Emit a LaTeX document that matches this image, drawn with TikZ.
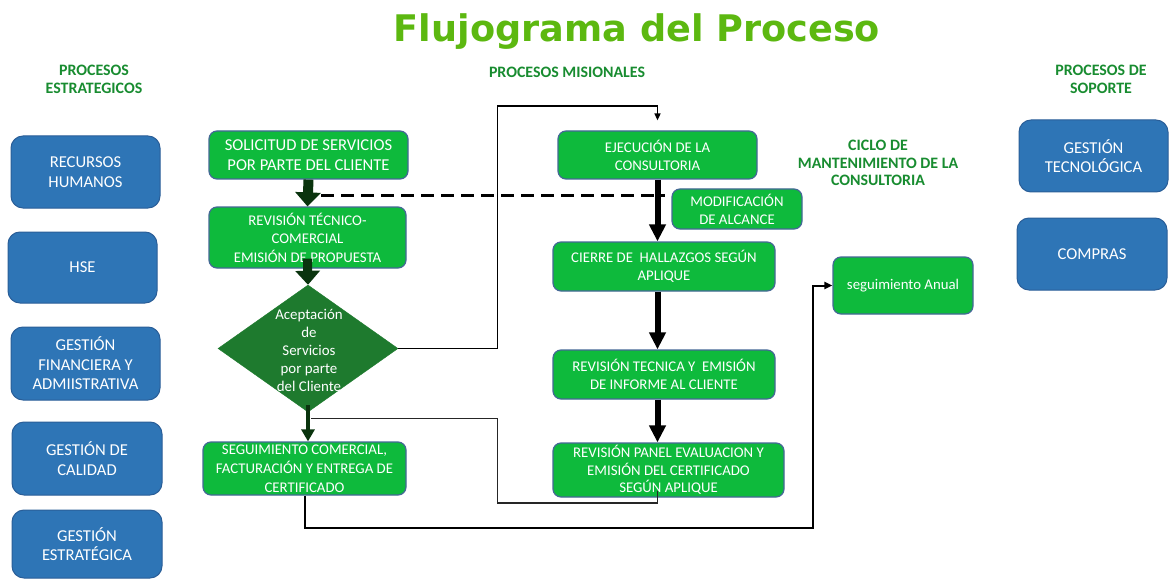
\documentclass[tikz,border=0pt]{standalone}
\usepackage{fontspec}
\usepackage{graphicx}
\setmainfont{Carlito}
\newfontfamily\titlefont{DejaVu Sans}
\usetikzlibrary{shapes.geometric,arrows.meta,calc}
\definecolor{gbox}{RGB}{14,186,60}
\definecolor{gborder}{RGB}{68,104,150}
\definecolor{bbox}{RGB}{46,117,182}
\definecolor{bborder}{RGB}{42,94,152}
\definecolor{dgreen}{RGB}{30,122,46}
\definecolor{hdr}{RGB}{24,140,48}
\definecolor{ttl}{RGB}{92,184,16}
\definecolor{darrow}{RGB}{10,52,14}
\begin{document}
\begin{tikzpicture}[x=1pt,y=-1pt,
  sz/.style 2 args={minimum width=#1pt, minimum height=#2pt},
  gnode/.style={draw=gborder, line width=1.2pt, fill=gbox, rounded corners=8pt, text=white, align=center, inner sep=0pt},
  bnode/.style={draw=bborder, line width=1pt, fill=bbox, rounded corners=12pt, text=white, align=center, inner sep=0pt, font=\fontsize{16.6}{19.5}\selectfont},
  hdrtext/.style={text=hdr, align=center, font=\bfseries\fontsize{15.9}{17.8}\selectfont, inner sep=0pt},
  fA/.style={font=\fontsize{16.6}{19.5}\selectfont},
  fB/.style={font=\fontsize{14.8}{18.5}\selectfont},
  fC/.style={font=\fontsize{14.8}{18}\selectfont},
  conn/.style={draw=black, line width=1.5pt},
  thickblack/.style={draw=black, line width=6pt, -{Triangle[width=16pt,length=17pt]}}
]
\fill[white] (0,0) rectangle (1169,580);
\useasboundingbox (0,0) rectangle (1169,580);

% title and headers
\node[text=ttl, font=\titlefont\bfseries, inner sep=0pt, anchor=base] (title) at (637,42) {\resizebox{486pt}{!}{Flujograma del Proceso}};
\node[hdrtext] (hS) at (94,79.5) {PROCESOS\\ESTRATEGICOS};
\node[hdrtext] (hM) at (567,72) {PROCESOS MISIONALES};
\node[hdrtext] (hP) at (1101,79.5) {PROCESOS DE\\SOPORTE};
\node[hdrtext] (hC) at (878,163) {CICLO DE\\MANTENIMIENTO DE LA\\CONSULTORIA};

% strategic processes
\node[bnode, sz={149}{72}] (rh) at (85.5,172) {RECURSOS\\HUMANOS};
\node[bnode, sz={149}{71}] (hse) at (82.5,267.5) {HSE};
\node[bnode, sz={149}{73}] (fin) at (85.5,363.5) {GESTIÓN\\FINANCIERA Y\\ADMIISTRATIVA};
\node[bnode, sz={150}{73}] (cal) at (87,458.5) {GESTIÓN DE\\CALIDAD};
\node[bnode, sz={150}{68}] (est) at (87,544) {GESTIÓN\\ESTRATÉGICA};

% support processes
\node[bnode, sz={149}{72}] (tec) at (1093.5,156) {GESTIÓN\\TECNOLÓGICA};
\node[bnode, sz={150}{72}] (com) at (1092,254) {COMPRAS};

% mission processes, left column
\node[gnode, fA, sz={199}{48}] (sol) at (308.5,155) {SOLICITUD DE SERVICIOS\\POR PARTE DEL CLIENTE};
\node[gnode, fB, sz={197}{61}] (rev) at (307.5,237.5) {REVISIÓN TÉCNICO-\\COMERCIAL\\EMISIÓN DE PROPUESTA};
\node[diamond, fill=dgreen, draw=dgreen, sz={180}{127}, inner sep=0pt] (dia) at (308,348.5) {};
\node[text=white, align=center, inner sep=0pt, font=\fontsize{14.9}{18}\selectfont] (diat) at (309,350) {Aceptación\\de\\Servicios\\por parte\\del Cliente};
\node[gnode, sz={203}{53}, font=\fontsize{14.8}{19}\selectfont] (seg) at (304.5,468.5) {SEGUIMIENTO COMERCIAL,\\FACTURACIÓN Y ENTREGA DE\\CERTIFICADO};

% mission processes, right column
\node[gnode, fC, sz={199}{48}] (ejec) at (657.5,155) {EJECUCIÓN DE LA\\CONSULTORIA};
\node[gnode, fC, sz={130}{40}] (mod) at (737,209) {MODIFICACIÓN\\DE ALCANCE};
\node[gnode, fC, sz={222}{49}] (cie) at (664,266.5) {CIERRE DE~ HALLAZGOS SEGÚN\\APLIQUE};
\node[gnode, fC, sz={222}{49}] (rt) at (664,374.5) {REVISIÓN TECNICA Y~ EMISIÓN\\DE INFORME AL CLIENTE};
\node[gnode, sz={231}{54}, font=\fontsize{14.8}{17.5}\selectfont] (pan) at (668.5,470) {REVISIÓN PANEL EVALUACION Y\\EMISIÓN DEL CERTIFICADO\\SEGÚN APLIQUE};
\node[gnode, sz={140}{57}, font=\fontsize{14.8}{16}\selectfont] (anual) at (903,285.5) {seguimiento Anual};

% thick dark green arrows
\draw[darrow, line width=10pt, -{Triangle[width=25pt,length=14pt]}] (sol.south) -- (rev.north);
\draw[darrow, line width=9pt, -{Triangle[width=24pt,length=14pt]}] ($(rev.south)+(0,-10)$) -- (dia.north);
\draw[darrow, line width=4pt, -{Triangle[width=13pt,length=12pt]}] ($(dia.south)+(0,-7)$) -- (dia.south |- seg.north);

% thick black arrows
\draw[thickblack] (ejec.south) -- (ejec.south |- cie.north);
\draw[thickblack] (cie.south -| ejec.south) -- (ejec.south |- rt.north);
\draw[thickblack] (rt.south -| ejec.south) -- (ejec.south |- pan.north);

% dashed line
\coordinate (dashA) at ($(sol.south)!0.6!(rev.north)+(13.5,0)$);
\coordinate (dashB) at ($(dashA -| ejec.south)+(7,0)$);
\draw[line width=3pt, dash pattern=on 13pt off 7pt] (dashA) -- (dashB);

% thin connectors
\coordinate (c1) at (497.5,106);
\draw[conn, -{Triangle[width=6pt,length=7pt]}] (dia.east) -| (c1) -| ($(ejec.north)+(0,-10)$);

\coordinate (pB) at ($(pan.south -| ejec.south)+(0,-7)$);
\coordinate (c2) at (497.5,503);
\coordinate (c3) at ($(dia.south)+(3,6)$);
\draw[draw=black!85, line width=1.2pt] (pB) |- (c2) |- (c3);

\coordinate (c4) at (813,528);
\draw[conn, line width=2pt, -{Triangle[width=7pt,length=8pt]}] (seg.south) |- (c4) |- (anual.west);
\end{tikzpicture}
\end{document}
